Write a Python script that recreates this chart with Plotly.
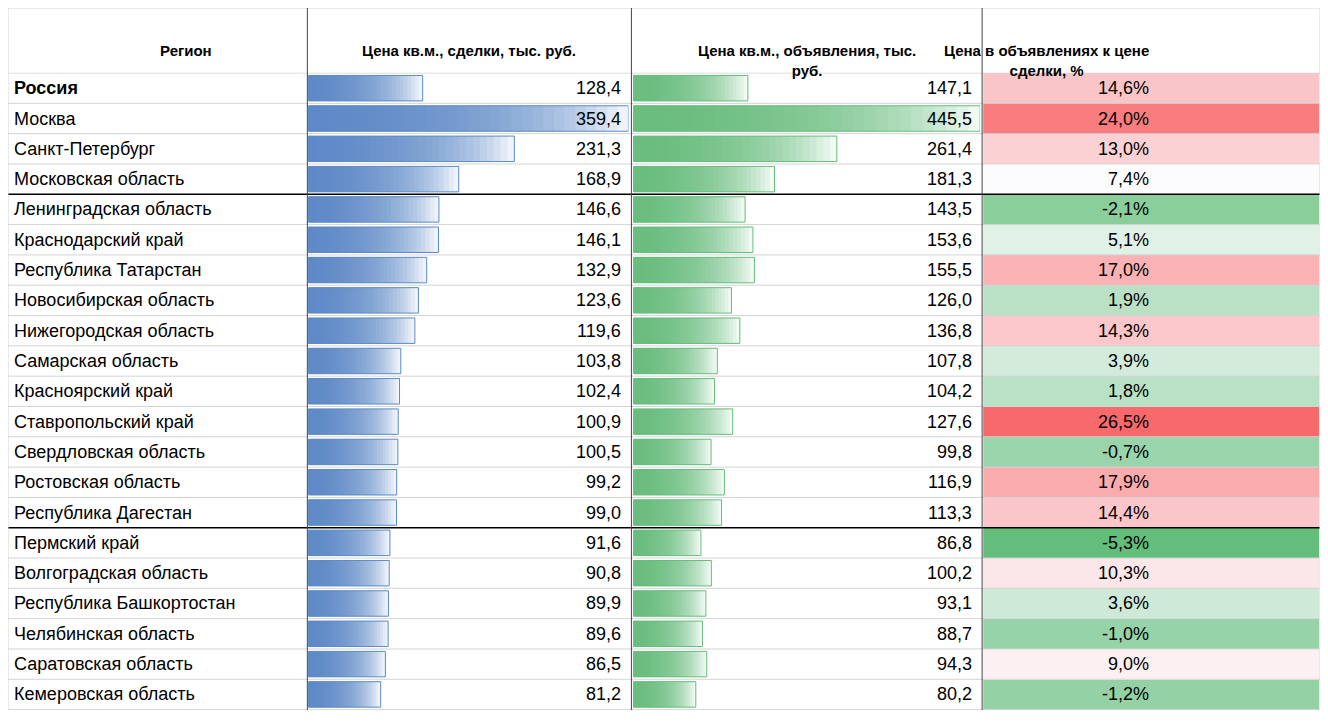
import plotly.graph_objects as go

regions = ['Россия', 'Москва', 'Санкт-Петербург', 'Московская область', 'Ленинградская область',
           'Краснодарский край', 'Республика Татарстан', 'Новосибирская область', 'Нижегородская область',
           'Самарская область', 'Красноярский край', 'Ставропольский край', 'Свердловская область',
           'Ростовская область', 'Республика Дагестан', 'Пермский край', 'Волгоградская область',
           'Республика Башкортостан', 'Челябинская область', 'Саратовская область', 'Кемеровская область']
deal = [128.4, 359.4, 231.3, 168.9, 146.6, 146.1, 132.9, 123.6, 119.6, 103.8, 102.4, 100.9, 100.5,
        99.2, 99.0, 91.6, 90.8, 89.9, 89.6, 86.5, 81.2]
ads = [147.1, 445.5, 261.4, 181.3, 143.5, 153.6, 155.5, 126.0, 136.8, 107.8, 104.2, 127.6, 99.8,
       116.9, 113.3, 86.8, 100.2, 93.1, 88.7, 94.3, 80.2]
diff = [14.6, 24.0, 13.0, 7.4, -2.1, 5.1, 17.0, 1.9, 14.3, 3.9, 1.8, 26.5, -0.7, 17.9, 14.4, -5.3,
        10.3, 3.6, -1.0, 9.0, -1.2]
headers = ['Регион', 'Цена кв.м., сделки, тыс. руб.', 'Цена кв.м., объявления, тыс.<br>руб.',
           'Цена в объявлениях к цене<br>сделки, %']

# reference pixel grid (fractions are used, figure is shrunk for the page margin)
W, H = 1328, 722
cols = [0, 303, 631, 986, 1328]
top_rows = 66
FONT = 'Liberation Sans'

def fmt(v, pct=False):
    s = f'{v:.1f}'.replace('.', ',')
    return s + '%' if pct else s

fig = go.Figure()

# gradient data bars via stacked translucent layers
N = 30
for vals, axis, rgb in [(deal, 'x2', '90,138,198'), (ads, 'x3', '99,190,123')]:
    for i in range(N):
        fig.add_trace(go.Bar(
            x=[v * (1 - i / N) for v in vals], y=regions, orientation='h', xaxis=axis, yaxis='y',
            marker=dict(color=f'rgba({rgb},0.09)', line=dict(width=0)), width=0.84,
            hoverinfo='skip', showlegend=False))
    fig.add_trace(go.Bar(
        x=vals, y=regions, orientation='h', xaxis=axis, yaxis='y', width=0.84,
        marker=dict(color='rgba(0,0,0,0)', line=dict(color=f'rgb({rgb})', width=1)),
        showlegend=False))

lo, hi, mid = min(diff), max(diff), sorted(diff)[len(diff) // 2]
fig.add_trace(go.Heatmap(
    z=[[d] for d in diff], x=[0], y=regions, xaxis='x4', yaxis='y', zmin=lo, zmax=hi,
    colorscale=[[0, '#63BE7B'], [(mid - lo) / (hi - lo), '#FCFCFF'], [1, '#F8696B']],
    showscale=False, ygap=0, hoverinfo='skip'))

px = lambda p: p / W
ydom = [(H - 718) / H, (H - top_rows) / H]
noax = dict(showticklabels=False, showgrid=False, zeroline=False, ticks='', fixedrange=True)
fig.update_layout(
    width=1312, height=706, margin=dict(l=0, r=0, t=0, b=0), barmode='overlay',
    plot_bgcolor='white', paper_bgcolor='white',
    xaxis=dict(domain=[0, 0.01], visible=False),
    xaxis2=dict(domain=[px(304), px(628)], range=[0, max(deal)], anchor='y', **noax),
    xaxis3=dict(domain=[px(633), px(984)], range=[0, max(ads)], anchor='y', **noax),
    xaxis4=dict(domain=[px(987), px(1327)], anchor='y', **noax),
    yaxis=dict(domain=ydom, autorange='reversed', categoryorder='array', categoryarray=regions,
               range=[len(regions) - 0.5, -0.5], **noax),
)

ann = []
hy = (H - top_rows / 2) / H
for j, h in enumerate(headers):
    ann.append(dict(x=px((cols[j] + cols[j + 1]) / 2), y=hy, xref='paper', yref='paper', text=f'<b>{h}</b>',
                    showarrow=False, font=dict(family=FONT, size=15, color='black')))
for i, r in enumerate(regions):
    t = f'<b>{r}</b>' if i == 0 else r
    ann.append(dict(x=px(4), y=r, xref='paper', yref='y', text=t, xanchor='left', showarrow=False,
                    font=dict(family=FONT, size=18, color='black')))
    ann.append(dict(x=px(622), y=r, xref='paper', yref='y', text=fmt(deal[i]), xanchor='right',
                    showarrow=False, font=dict(family=FONT, size=18, color='black')))
    ann.append(dict(x=px(978), y=r, xref='paper', yref='y', text=fmt(ads[i]), xanchor='right',
                    showarrow=False, font=dict(family=FONT, size=18, color='black')))
    ann.append(dict(x=px(1157), y=r, xref='paper', yref='y', text=fmt(diff[i], True),
                    showarrow=False, font=dict(family=FONT, size=18, color='black')))
fig.update_layout(annotations=ann)

shapes = []
for k in range(len(regions) + 1):
    c = 'black' if k in (4, 15) else '#D4D4D4'
    shapes.append(dict(type='line', xref='paper', yref='y', x0=0, x1=1, y0=k - 0.5, y1=k - 0.5,
                       line=dict(color=c, width=1.5 if c == 'black' else 1)))
shapes.append(dict(type='line', xref='paper', yref='paper', x0=0, x1=1, y0=1, y1=1,
                   line=dict(color='#D4D4D4', width=1)))
for c in cols:
    shapes.append(dict(type='line', xref='paper', yref='paper', x0=px(c), x1=px(c), y0=ydom[0], y1=1,
                       line=dict(color='#444444' if 0 < c < W else '#D4D4D4', width=1)))
fig.update_layout(shapes=shapes)

fig.write_html('out.html')
